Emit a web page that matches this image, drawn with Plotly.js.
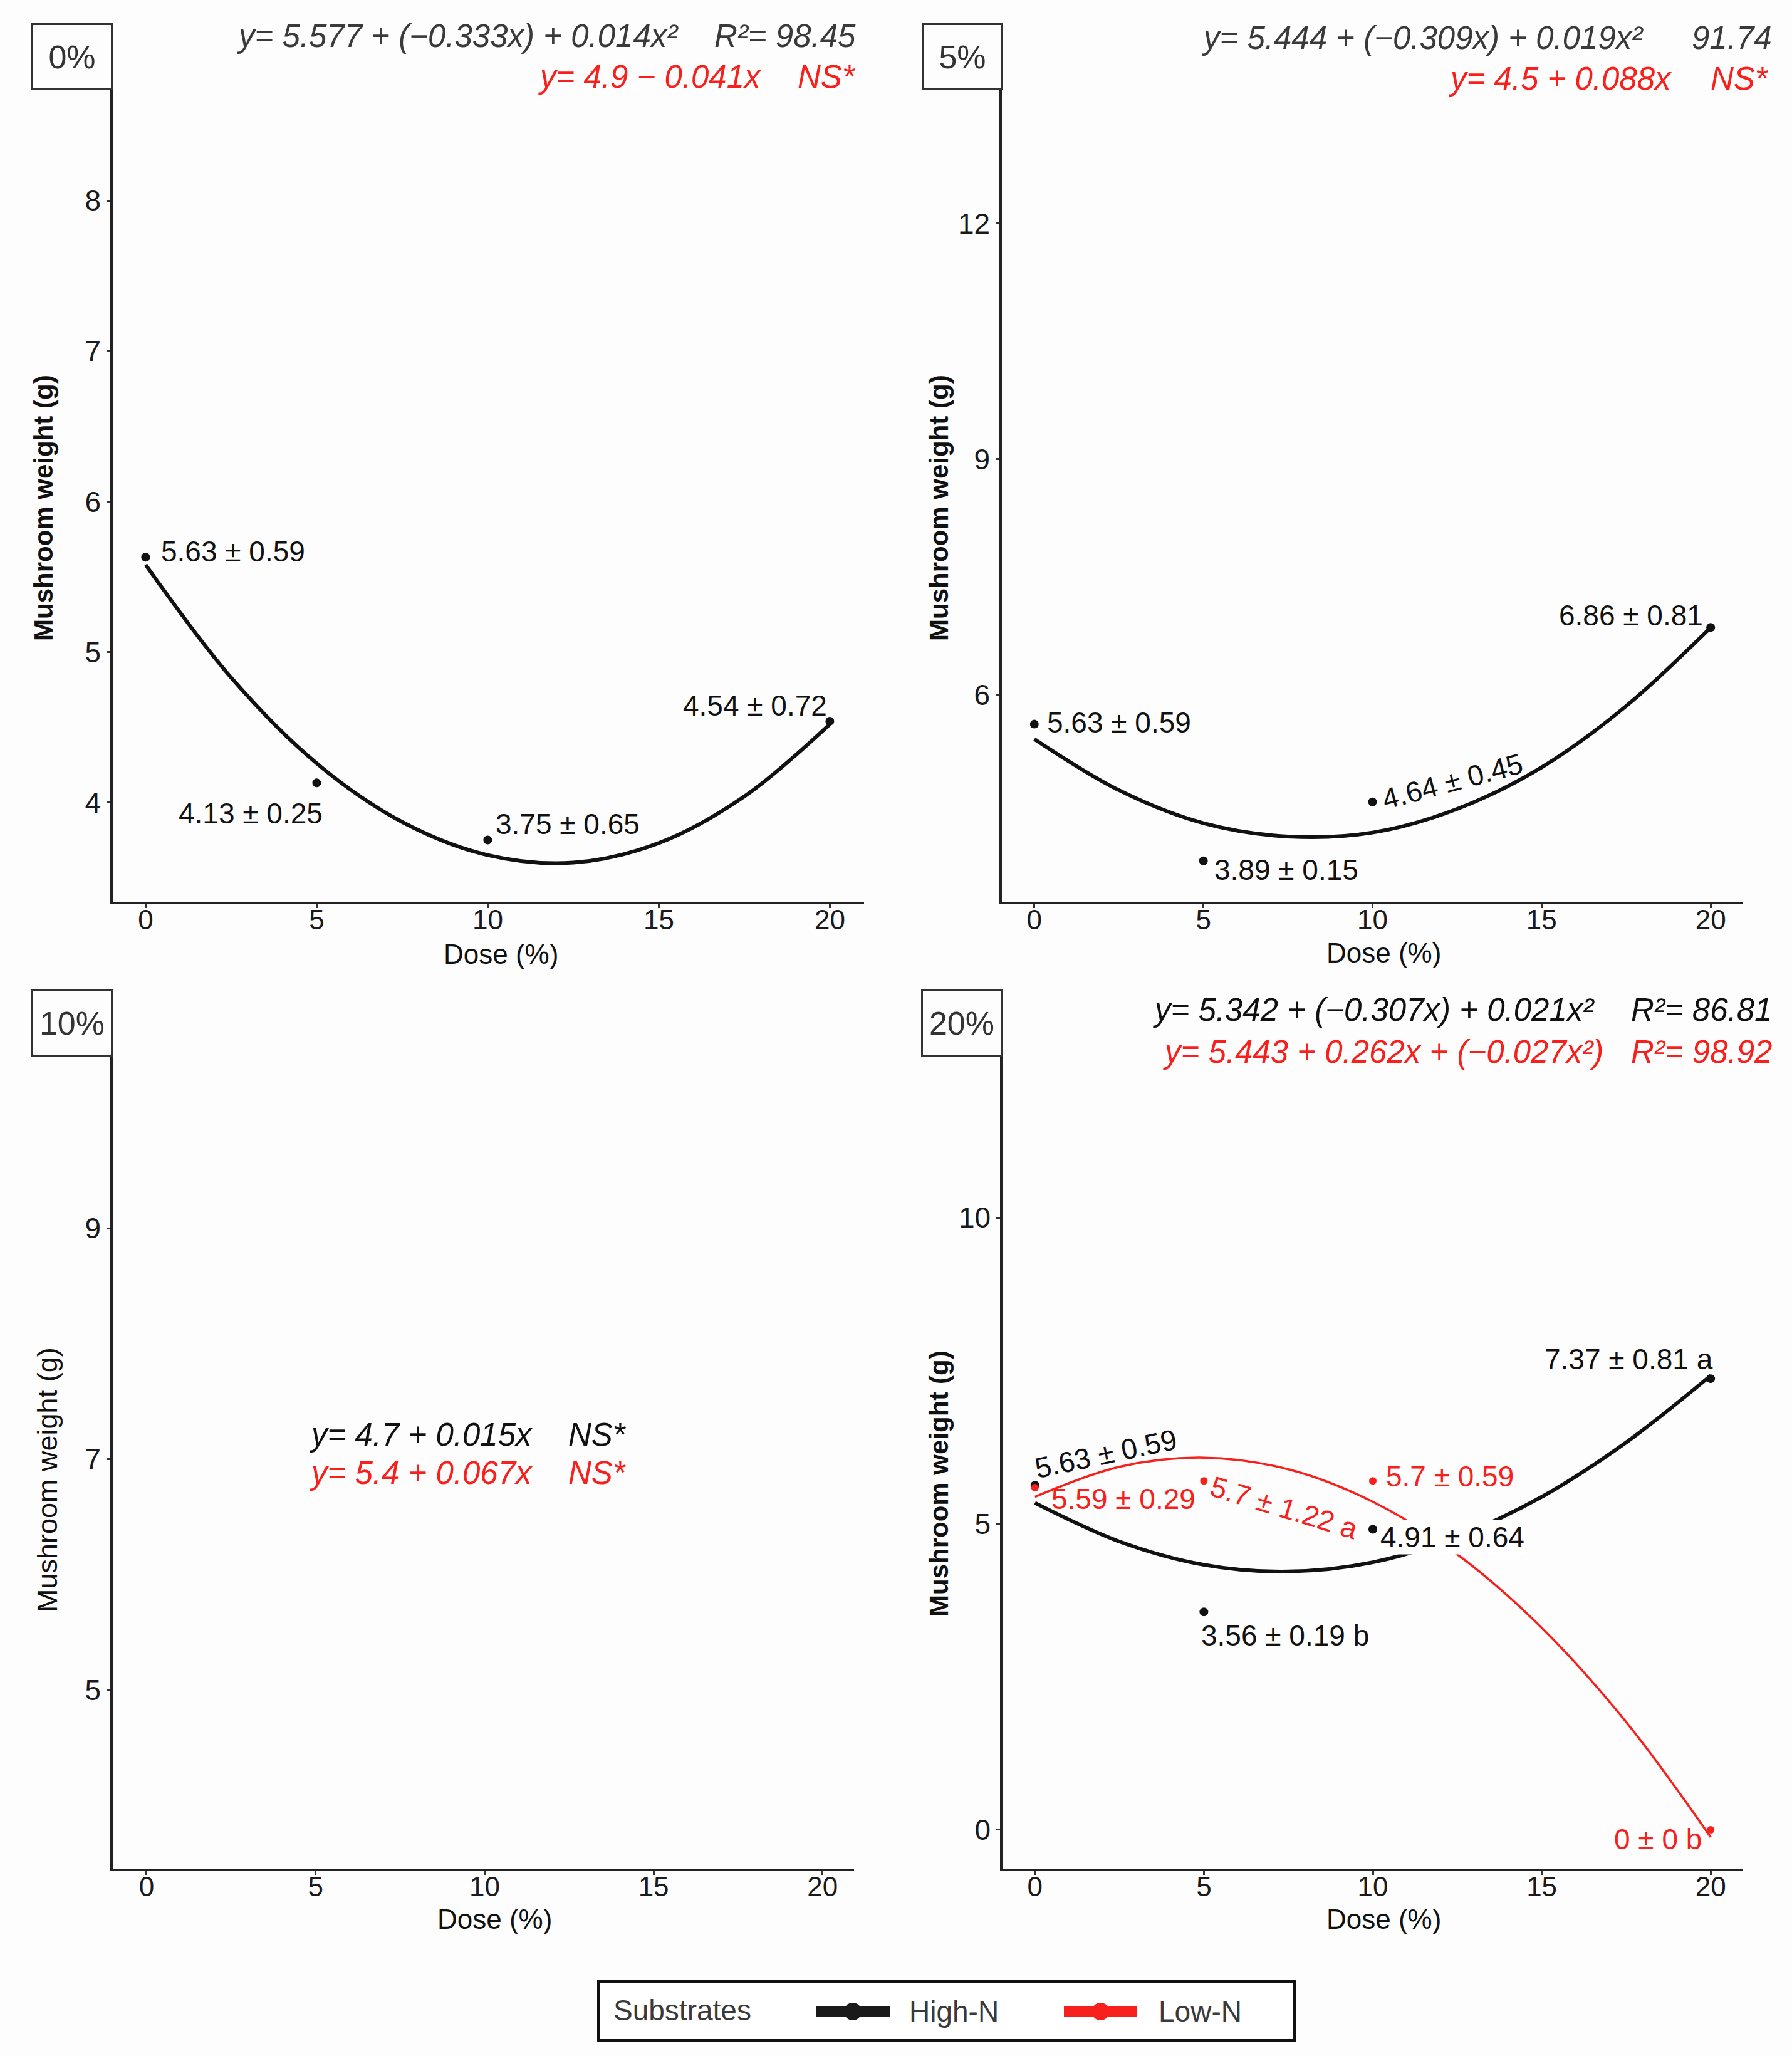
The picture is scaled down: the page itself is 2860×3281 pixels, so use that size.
<!DOCTYPE html>
<html>
<head>
<meta charset="utf-8">
<script src="https://cdn.plot.ly/plotly-3.0.1.min.js"></script>
<style>
  body { margin: 0; background: #fdfdfd; }
  #chart { width: 2860px; height: 3281px; }
</style>
</head>
<body>
<div id="chart"></div>
<script>
var W = 2860, H = 3281
var RED = '#f8201c'
var INK = '#111111'
var GREY = '#3a3a3a'
var FONT = 'Arial, "Liberation Sans", sans-serif'

// doses with a measured mean
var doses = [0, 5, 10, 20]
var xTicks = [0, 5, 10, 15, 20]

// 0% panel, High-N
var high0Mean = [5.63, 4.13, 3.75, 4.54]
var high0Sd = [0.59, 0.25, 0.65, 0.72]

// 5% panel, High-N
var high5Mean = [5.63, 3.89, 4.64, 6.86]
var high5Sd = [0.59, 0.15, 0.45, 0.81]

// 20% panel
var high20Mean = [5.63, 3.56, 4.91, 7.37]
var high20Sd = [0.59, 0.19, 0.64, 0.81]
var high20Letter = ['', 'b', '', 'a']
var low20Mean = [5.59, 5.7, 5.7, 0]
var low20Sd = [0.29, 1.22, 0.59, 0]
var low20Letter = ['', 'a', '', 'b']

// fitted curves
var fitDose = [0, 2.5, 5, 7.5, 10, 12.5, 15, 17.5, 20]
var fit0High = [5.58, 4.83, 4.26, 3.87, 3.65, 3.60, 3.73, 4.04, 4.52]
var fit5High = [5.44, 4.79, 4.37, 4.20, 4.25, 4.55, 5.08, 5.86, 6.86]
var fit20High = [5.34, 4.71, 4.33, 4.22, 4.37, 4.79, 5.44, 6.33, 7.42]
var fit20Low = [5.44, 5.93, 6.08, 5.89, 5.36, 4.50, 3.30, 1.76, -0.12]

// equations printed on each panel
var eq0 = ['y= 5.577 + (\u22120.333x) + 0.014x\u00b2', 'R\u00b2= 98.45', 'y= 4.9 \u2212 0.041x', 'NS*']
var eq5 = ['y= 5.444 + (\u22120.309x) + 0.019x\u00b2', '91.74', 'y= 4.5 + 0.088x', 'NS*']
var eq10 = ['y= 4.7 + 0.015x', 'NS*', 'y= 5.4 + 0.067x', 'NS*']
var eq20 = ['y= 5.342 + (\u22120.307x) + 0.021x\u00b2', 'R\u00b2= 86.81', 'y= 5.443 + 0.262x + (\u22120.027x\u00b2)', 'R\u00b2= 98.92']

var panelNames = ['0%', '5%', '10%', '20%']
var legendTitle = 'Substrates'
var groups = ['High-N', 'Low-N']

// label placement (screen px offsets from the point)
var place0 = [{a: 'left', dx: 23, dy: -9}, {a: 'right', dx: 12, dy: 49}, {a: 'left', dx: 11, dy: -26}, {a: 'right', dx: -2, dy: -25}]
var place5 = [{a: 'left', dx: 18, dy: -3}, {a: 'left', dx: 15, dy: 14}, {a: 'center', dx: 127, dy: -33, rot: -15}, {a: 'right', dx: -10, dy: -19}]
var place20High = [{a: 'center', dx: 113, dy: -50, rot: -12}, {a: 'left', dx: -6, dy: 38}, {a: 'left', dx: 10, dy: 13, bg: 'white'}, {a: 'right', dx: 6, dy: -31}]
var place20Low = [{a: 'left', dx: 24, dy: 18}, {a: 'center', dx: 128, dy: 43, rot: 17}, {a: 'left', dx: 19, dy: -7}, {a: 'right', dx: -12, dy: 15}]

function px(x) { return x / W }
function py(y) { return 1 - y / H }

function fmt(m, sd, letter) {
  return m + ' \u00b1 ' + sd + (letter ? ' ' + letter : '')
}

function curve(ax, y, colour, width) {
  return {
    x: fitDose, y: y, xaxis: 'x' + ax, yaxis: 'y' + ax,
    type: 'scatter', mode: 'lines', showlegend: false, hoverinfo: 'skip',
    line: { shape: 'spline', smoothing: 1, color: colour, width: width }
  }
}

function dots(ax, y, colour, size) {
  return {
    x: doses, y: y, xaxis: 'x' + ax, yaxis: 'y' + ax,
    type: 'scatter', mode: 'markers', showlegend: false,
    marker: { color: colour, size: size }
  }
}

function labels(ax, means, sds, letters, place, colour) {
  var out = []
  for (var i = 0; i < means.length; i++) {
    var p = place[i]
    var a = {
      xref: 'x' + ax, yref: 'y' + ax, x: doses[i], y: means[i],
      text: fmt(means[i], sds[i], letters ? letters[i] : ''),
      showarrow: false, xanchor: p.a, yanchor: 'middle',
      xshift: p.dx, yshift: -p.dy, textangle: p.rot || 0,
      font: { family: FONT, size: 46, color: colour }
    }
    if (p.bg) { a.bgcolor = p.bg; a.borderpad = 1 }
    out.push(a)
  }
  return out
}

function note(text, x, y, anchor, colour, size, extra) {
  var a = {
    xref: 'paper', yref: 'paper', x: px(x), y: py(y), text: text,
    showarrow: false, xanchor: anchor, yanchor: 'middle',
    font: { family: FONT, size: size, color: colour }
  }
  for (var k in extra) a[k] = extra[k]
  return a
}

function equations(eq, pos, colourTop) {
  var it = { font: { family: FONT, size: 51, color: colourTop, style: 'italic' } }
  var red = { font: { family: FONT, size: 51, color: RED, style: 'italic' } }
  return [
    note(eq[0], pos[0], pos[1], pos[8], colourTop, 51, it),
    note(eq[1], pos[2], pos[1], pos[8], colourTop, 51, it),
    note(eq[2], pos[4], pos[5], pos[8], RED, 51, red),
    note(eq[3], pos[6], pos[5], pos[8], RED, 51, red)
  ]
}

function tag(text, right, top) {
  return {
    xref: 'paper', yref: 'paper', x: px(right), y: py(top),
    xanchor: 'right', yanchor: 'top', text: text, showarrow: false,
    width: 124, height: 101, borderpad: 0, borderwidth: 3, bordercolor: '#333',
    bgcolor: '#fdfdfd', font: { family: FONT, size: 52, color: '#333' }
  }
}

function xAxis(domain, range, anchor) {
  return {
    domain: domain, range: range, anchor: anchor, tickvals: xTicks,
    ticks: 'outside', ticklen: 6, tickwidth: 2.5, tickcolor: '#333',
    ticklabelstandoff: -19,
    showline: true, linecolor: '#222', linewidth: 3.5,
    showgrid: false, zeroline: false, fixedrange: true,
    tickfont: { family: FONT, size: 44, color: '#1a1a1a' }
  }
}

function yAxis(domain, range, anchor, ticks) {
  return {
    domain: domain, range: range, anchor: anchor, tickvals: ticks,
    ticks: 'outside', ticklen: 6, tickwidth: 2.5, tickcolor: '#333',
    showline: true, linecolor: '#222', linewidth: 3.5,
    showgrid: false, zeroline: false, fixedrange: true,
    tickfont: { family: FONT, size: 46, color: '#1a1a1a' }
  }
}

// hand-drawn legend key: bar with a dot in the middle
function legendKey(x0, x1, yc, colour) {
  var xc = (x0 + x1) / 2, r = 14
  return [
    { type: 'line', xref: 'paper', yref: 'paper', x0: px(x0), x1: px(x1), y0: py(yc), y1: py(yc),
      line: { color: colour, width: 17 } },
    { type: 'circle', xref: 'paper', yref: 'paper', x0: px(xc - r), x1: px(xc + r), y0: py(yc + r), y1: py(yc - r),
      fillcolor: colour, line: { width: 0 } }
  ]
}

var data = [
  curve('', fit0High, INK, 6),
  dots('', high0Mean, INK, 14),
  curve('2', fit5High, INK, 6),
  dots('2', high5Mean, INK, 14),
  { x: [], y: [], xaxis: 'x3', yaxis: 'y3', type: 'scatter', showlegend: false },
  curve('4', fit20High, INK, 6),
  curve('4', fit20Low, RED, 3.5),
  dots('4', high20Mean, INK, 14),
  dots('4', low20Mean, RED, 12)
]

var topRow = [py(1439), py(37)]
var bottomRow = [py(2982), py(1579)]

var annotations = []
  .concat(labels('', high0Mean, high0Sd, null, place0, INK))
  .concat(labels('2', high5Mean, high5Sd, null, place5, INK))
  .concat(labels('4', high20Mean, high20Sd, high20Letter, place20High, INK))
  .concat(labels('4', low20Mean, low20Sd, low20Letter, place20Low, RED))
  .concat(equations(eq0, [1085, 58, 1368, 0, 1217, 122, 1368, 0, 'right'], GREY))
  .concat(equations(eq5, [2625, 61, 2830, 0, 2670, 125, 2825, 0, 'right'], GREY))
  .concat(equations(eq10, [492, 2289, 905, 0, 492, 2350, 905, 0, 'left'], INK))
  .concat(equations(eq20, [2547, 1612, 2830, 0, 2561, 1679, 2830, 0, 'right'], INK))
  .concat([
    tag(panelNames[0], 180, 37),
    tag(panelNames[1], 1601, 37),
    tag(panelNames[2], 180, 1579),
    tag(panelNames[3], 1600, 1579),
    note('Dose (%)', 799, 1522, 'center', INK, 44),
    note('Dose (%)', 2208, 1520, 'center', INK, 44),
    note('Dose (%)', 790, 3062, 'center', INK, 44),
    note('Dose (%)', 2208, 3062, 'center', INK, 44),
    note('<b>Mushroom weight (g)</b>', 69, 811, 'center', INK, 42, { textangle: -90 }),
    note('<b>Mushroom weight (g)</b>', 1498, 811, 'center', INK, 42, { textangle: -90 }),
    note('Mushroom weight (g)', 75, 2362, 'center', INK, 45, { textangle: -90 }),
    note('<b>Mushroom weight (g)</b>', 1498, 2368, 'center', INK, 42, { textangle: -90 }),
    note(legendTitle, 977, 3208, 'left', GREY, 46),
    note(groups[0], 1449, 3210, 'left', GREY, 46),
    note(groups[1], 1847, 3210, 'left', GREY, 46)
  ])

var shapes = [
  { type: 'rect', xref: 'paper', yref: 'paper', x0: px(955), x1: px(2066), y0: py(3256), y1: py(3162),
    fillcolor: 'white', line: { color: '#111', width: 4 } }
].concat(legendKey(1302, 1420, 3210, '#1a1a1a')).concat(legendKey(1698, 1815, 3210, RED))

var layout = {
  width: W, height: H,
  margin: { l: 0, r: 0, t: 0, b: 0 },
  paper_bgcolor: '#fdfdfd',
  plot_bgcolor: 'rgba(0,0,0,0)',
  showlegend: false,
  xaxis: xAxis([px(180), px(1379)], [-0.96, 21], 'y'),
  yaxis: yAxis(topRow, [3.34, 9.18], 'x', [4, 5, 6, 7, 8]),
  xaxis2: xAxis([px(1599), px(2782)], [-0.96, 20.96], 'y2'),
  yaxis2: yAxis(topRow, [3.37, 14.55], 'x2', [6, 9, 12]),
  xaxis3: xAxis([px(180), px(1363)], [-1, 20.93], 'y3'),
  yaxis3: yAxis(bottomRow, [3.45, 11.07], 'x3', [5, 7, 9]),
  xaxis4: xAxis([px(1600), px(2782)], [-0.96, 20.96], 'y4'),
  yaxis4: yAxis(bottomRow, [-0.635, 13.73], 'x4', [0, 5, 10]),
  shapes: shapes,
  annotations: annotations
}

Plotly.newPlot('chart', data, layout, { displayModeBar: false })
</script>
</body>
</html>
